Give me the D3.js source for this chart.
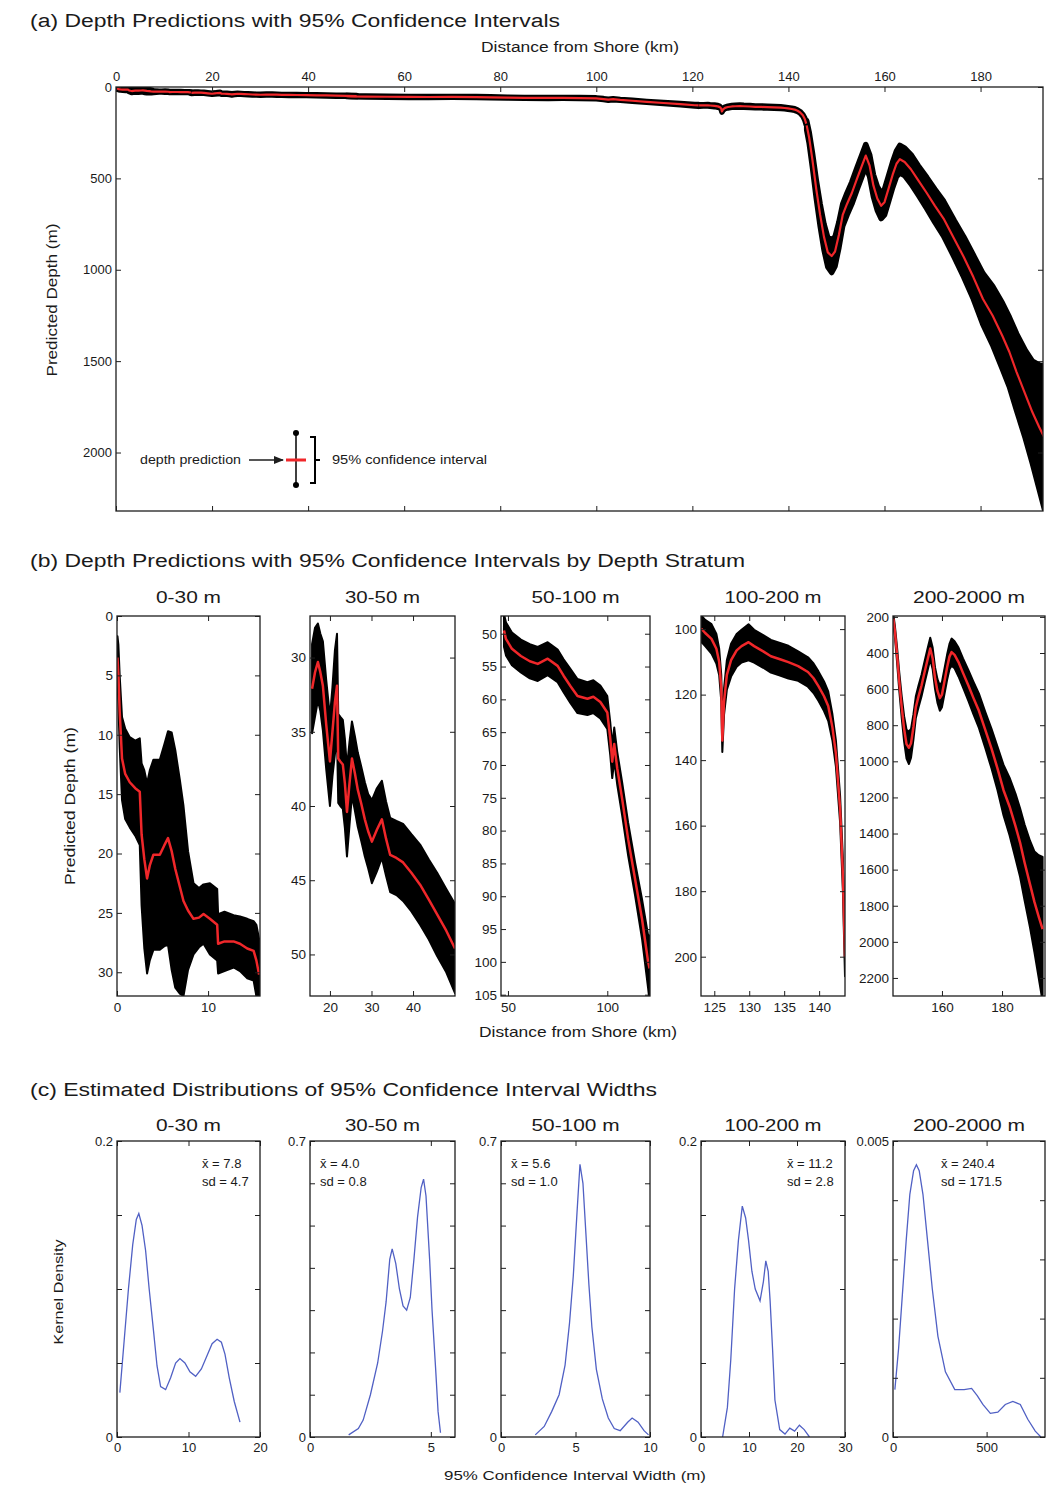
<!DOCTYPE html>
<html>
<head>
<meta charset="utf-8">
<script src="https://cdn.jsdelivr.net/npm/d3@7"></script>
<style>
  body { margin: 0; background: #fff; }
  text { font-family: "Liberation Sans", Arial, sans-serif; fill: #1a1a1a; }
</style>
</head>
<body>
<div id="vis"></div>
<script>
// ---------- data ----------
const strata = ['0-30 m', '30-50 m', '50-100 m', '100-200 m', '200-2000 m'];

// stratum profiles: distance (km), predicted depth (m), half width of 95% CI (m)
const dist1  = [0.05, 0.15, 0.3, 0.55, 0.9, 1.4, 2.0, 2.5, 2.7, 3.0, 3.3, 3.6, 4.0, 4.7, 5.2, 5.6, 6.0, 6.4, 6.9, 7.3, 7.8, 8.4, 9.0, 9.5, 10.2, 11.0, 11.1, 11.8, 12.8, 13.5, 14.3, 15.0, 15.3, 15.6];
const depth1 = [3.5, 4.9, 8.1, 12.0, 13.3, 14.0, 14.5, 14.8, 18.4, 20.5, 22.1, 21.0, 20.1, 20.1, 19.3, 18.7, 19.8, 21.3, 22.8, 24.0, 24.8, 25.5, 25.4, 25.1, 25.5, 26.0, 27.6, 27.4, 27.4, 27.6, 28.0, 28.2, 29.0, 30.2];
const ci1    = [1.8, 2.5, 3, 3.5, 3.8, 3.8, 4, 4.5, 6, 7.5, 8, 8, 8, 8, 8.5, 9, 10, 10, 9, 8, 5, 3, 2.5, 2.5, 3, 3, 2.5, 2.5, 2.2, 2.3, 2.5, 2.5, 3, 3];

const dist2  = [15.7, 16.4, 17.1, 17.7, 18.3, 19.1, 20.0, 20.6, 21.2, 21.7, 22.0, 22.5, 23.1, 23.6, 24.1, 24.7, 25.3, 26.0, 26.7, 27.5, 28.4, 29.2, 30.1, 31.3, 32.5, 33.5, 34.5, 36.0, 37.6, 39.6, 41.7, 43.8, 45.8, 48.0, 50.1];
const depth2 = [32.1, 31.0, 30.3, 31.0, 31.9, 34.5, 37.0, 35.0, 33.0, 31.9, 36.8, 37.0, 37.2, 38.5, 40.4, 38.5, 36.8, 37.8, 38.9, 39.8, 40.9, 41.7, 42.4, 41.6, 40.9, 42.2, 43.3, 43.5, 43.8, 44.5, 45.3, 46.3, 47.3, 48.4, 49.6];
const ci2    = [3, 3, 2.6, 2.6, 3, 3, 3, 3, 3.5, 3.5, 3, 3, 3, 3, 3, 2.8, 2.5, 2.5, 2.5, 2.5, 2.5, 2.5, 2.8, 2.8, 2.6, 2.5, 2.5, 2.5, 2.6, 2.6, 2.7, 2.7, 2.8, 2.8, 3];

const dist3  = [48.0, 49.0, 52.0, 56.5, 61.0, 65.0, 70.0, 75.0, 78.0, 81.5, 85.0, 90.0, 93.0, 96.5, 100.0, 101.5, 102.5, 103.5, 105.0, 107.5, 110.5, 114.0, 117.5, 120.5, 121.3];
const depth3 = [49.5, 50.8, 52.3, 53.4, 54.2, 54.6, 53.8, 54.9, 56.4, 58.0, 59.5, 59.9, 59.6, 60.4, 62.0, 66.0, 69.5, 66.8, 70.5, 75.2, 81.3, 87.4, 93.5, 99.9, 101.0];
const ci3    = [2.5, 2.5, 2.5, 2.5, 2.6, 2.6, 2.5, 2.5, 2.5, 2.6, 2.6, 2.5, 2.5, 2.5, 2.5, 2.5, 2.5, 2.5, 2.5, 2.5, 2.5, 2.5, 3, 4, 5];

const dist4  = [121.4, 122.3, 123.2, 123.7, 124.6, 125.3, 125.7, 126.0, 126.15, 126.4, 126.8, 127.4, 128.2, 128.9, 129.9, 130.7, 132.0, 133.1, 134.4, 135.6, 137.0, 138.4, 139.2, 139.9, 140.7, 141.3, 141.9, 142.4, 143.0, 143.4, 143.7];
const depth4 = [101, 100.5, 100, 101.2, 103, 106, 110, 118, 134, 122, 114, 109.5, 106.5, 105.2, 104, 105.2, 106.8, 108.3, 109.2, 110.1, 111.3, 113.1, 115.0, 117.4, 120.5, 123.5, 130, 138, 155, 175, 200];
const ci4    = [4, 4, 4, 4, 4.5, 4.5, 4, 4, 3.5, 4, 4.5, 5, 5, 5, 5.5, 5, 5, 5, 5, 5, 4.5, 4.5, 4.5, 4.5, 4.5, 4.5, 4, 4, 4, 5, 6];

const dist5  = [143.8, 144.3, 145.0, 145.8, 146.6, 147.4, 148.2, 149.0, 149.7, 150.5, 151.3, 152.2, 153.2, 154.3, 155.3, 156.1, 156.9, 157.7, 158.5, 159.3, 160.0, 160.8, 161.7, 162.5, 163.2, 164.2, 165.5, 167.0, 168.8, 170.5, 172.3, 174.5, 176.5, 178.5, 180.5, 182.5, 184.5, 186.0, 187.5, 189.3, 190.8, 192.2, 193.5];
const depth5 = [210, 275, 400, 560, 700, 820, 905, 925, 900, 810, 700, 640, 580, 500, 430, 375, 430, 540, 610, 650, 630, 560, 480, 420, 395, 410, 450, 510, 580, 650, 720, 830, 930, 1040, 1160, 1250, 1360, 1450, 1560, 1680, 1780, 1860, 1930];
const ci5    = [25, 30, 40, 50, 60, 70, 80, 90, 80, 70, 60, 60, 60, 60, 60, 60, 60, 60, 65, 70, 70, 70, 70, 70, 75, 75, 80, 80, 85, 90, 95, 100, 110, 120, 140, 160, 180, 190, 210, 240, 280, 340, 400];

const dists  = [dist1, dist2, dist3, dist4, dist5];
const depths = [depth1, depth2, depth3, depth4, depth5];
const cis    = [ci1, ci2, ci3, ci4, ci5];

// axes of panel (a)
const aXDomain = [0, 193];
const aYDomain = [0, 2320];
const aXTicks = [0, 20, 40, 60, 80, 100, 120, 140, 160, 180];
const aYTicks = [0, 500, 1000, 1500, 2000];

// axes of panel (b)
const bXDomains = [[0, 15.7], [15.2, 50.1], [46.5, 121.5], [123.1, 143.7], [143.7, 194.3]];
const bYDomains = [[0, 32], [27.2, 52.8], [47.3, 105.2], [96, 212], [195, 2300]];
const bXTicks = [[0, 10], [20, 30, 40], [50, 100], [125, 130, 135, 140], [160, 180]];
const bYTicks = [
  [0, 5, 10, 15, 20, 25, 30],
  [30, 35, 40, 45, 50],
  [50, 55, 60, 65, 70, 75, 80, 85, 90, 95, 100, 105],
  [100, 120, 140, 160, 180, 200],
  [200, 400, 600, 800, 1000, 1200, 1400, 1600, 1800, 2000, 2200]
];

// kernel densities of CI widths, panel (c)
const kdeX1 = [0.4, 1, 1.6, 2.2, 2.7, 3.05, 3.5, 4.0, 4.5, 5.1, 5.6, 6.1, 6.8, 7.5, 8.2, 8.8, 9.5, 10.2, 11, 11.8, 12.6, 13.3, 14, 14.6, 15.1, 15.7, 16.4, 17.2];
const kdeY1 = [0.03, 0.065, 0.1, 0.13, 0.147, 0.151, 0.143, 0.126, 0.1, 0.072, 0.048, 0.034, 0.032, 0.04, 0.05, 0.053, 0.05, 0.044, 0.041, 0.046, 0.055, 0.063, 0.066, 0.064, 0.056, 0.04, 0.024, 0.01];
const kdeX2 = [1.6, 2.0, 2.2, 2.5, 2.8, 3.0, 3.15, 3.3, 3.4, 3.55, 3.7, 3.85, 4.0, 4.15, 4.3, 4.45, 4.6, 4.7, 4.8, 4.95, 5.05, 5.2, 5.3, 5.4];
const kdeY2 = [0.005, 0.02, 0.04, 0.1, 0.175, 0.25, 0.32, 0.42, 0.445, 0.41, 0.35, 0.31, 0.3, 0.33, 0.42, 0.52, 0.59, 0.61, 0.57, 0.42, 0.3, 0.16, 0.06, 0.01];
const kdeX3 = [2.3, 2.9, 3.4, 3.9, 4.3, 4.6, 4.85, 5.1, 5.3, 5.5, 5.7, 5.9, 6.1, 6.4, 6.8, 7.2, 7.6, 8.0, 8.5, 8.8, 9.2, 9.6, 9.9];
const kdeY3 = [0.005, 0.025, 0.06, 0.1, 0.17, 0.27, 0.38, 0.53, 0.645, 0.6, 0.48, 0.36, 0.26, 0.16, 0.09, 0.045, 0.02, 0.015, 0.035, 0.045, 0.035, 0.015, 0.005];
const kdeX4 = [4.5, 5.5, 6.2, 7.0, 7.8, 8.6, 9.3, 9.9, 10.6, 11.3, 12.3, 13.0, 13.5, 14.0, 14.4, 14.9, 15.4, 16.4, 17.5, 18.5, 19.5, 20.5, 21.5, 22.6];
const kdeY4 = [0.0, 0.02, 0.052, 0.1, 0.133, 0.156, 0.148, 0.133, 0.112, 0.1, 0.092, 0.105, 0.119, 0.112, 0.092, 0.06, 0.025, 0.005, 0.002, 0.006, 0.004, 0.008, 0.005, 0.0];
const kdeX5 = [10, 30, 50, 70, 90, 110, 125, 140, 160, 185, 210, 240, 280, 330, 380, 420, 450, 480, 520, 560, 600, 640, 680, 720, 760, 790];
const kdeY5 = [0.0008, 0.0015, 0.0024, 0.0033, 0.0041, 0.0045, 0.0046, 0.0045, 0.0041, 0.0033, 0.0025, 0.0017, 0.0011, 0.0008, 0.0008, 0.00082, 0.0007, 0.00055, 0.0004, 0.00042, 0.00055, 0.0006, 0.00055, 0.0003, 0.0001, 0.0];
const kdeXs = [kdeX1, kdeX2, kdeX3, kdeX4, kdeX5];
const kdeYs = [kdeY1, kdeY2, kdeY3, kdeY4, kdeY5];

const cXDomains = [[0, 20], [0, 6], [0, 10], [0, 30], [0, 812]];
const cYMax = [0.2, 0.7, 0.7, 0.2, 0.005];
const cXTicks = [[0, 10, 20], [0, 5], [0, 5, 10], [0, 10, 20, 30], [0, 500]];
const cYTicks = [
  [0, 0.05, 0.1, 0.15, 0.2],
  [0, 0.1, 0.2, 0.3, 0.4, 0.5, 0.6, 0.7],
  [0, 0.1, 0.2, 0.3, 0.4, 0.5, 0.6, 0.7],
  [0, 0.05, 0.1, 0.15, 0.2],
  [0, 0.001, 0.002, 0.003, 0.004, 0.005]
];
const widthMeans = ['7.8', '4.0', '5.6', '11.2', '240.4'];
const widthSds = ['4.7', '0.8', '1.0', '2.8', '171.5'];

// ---------- layout ----------
const W = 1049, H = 1486;
const FONT = '"Liberation Sans", Arial, sans-serif';
const RED = '#f0272a', BLUE = '#5060c4', INK = '#1e1e1e';
const cols = [[117, 260], [310, 455], [501, 650], [701, 845], [893, 1045]];
const noteSide = ['right', 'left', 'left', 'right', 'right'];

const svg = d3.select('#vis').append('svg')
  .attr('width', W)
  .attr('height', H);
const defs = svg.append('defs');

defs.append('marker')
  .attr('id', 'arrow')
  .attr('viewBox', '0 0 10 10')
  .attr('refX', 9).attr('refY', 5)
  .attr('markerWidth', 7).attr('markerHeight', 7)
  .attr('orient', 'auto')
  .append('path').attr('d', 'M0,1 L10,5 L0,9 Z').attr('fill', INK);

function clipFor(id, x, y) {
  const [x0, x1] = x.range();
  const ys = y.range();
  defs.append('clipPath').attr('id', id).append('rect')
    .attr('x', x0).attr('y', Math.min(...ys))
    .attr('width', x1 - x0).attr('height', Math.abs(ys[1] - ys[0]));
  return `url(#${id})`;
}

// matlab-like box with inward ticks on all four sides
function box(g, x, y, xt, yt, o) {
  const [x0, x1] = x.range();
  const top = Math.min(...y.range()), bot = Math.max(...y.range());
  const fs = o.fs || 13;
  const none = () => '';
  const fmtX = o.xFmt || (d => String(d));
  const fmtY = o.yFmt || (d => String(d));
  const style = sel => {
    sel.select('.domain').remove();
    sel.selectAll('line').attr('stroke', INK).attr('stroke-width', 1);
    sel.selectAll('text').attr('font-size', fs).attr('font-family', FONT).attr('fill', INK);
  };
  g.append('g').attr('transform', `translate(0,${bot})`)
    .call(d3.axisBottom(x).tickValues(xt).tickSize(-5).tickPadding(6).tickFormat(o.xTop ? none : fmtX))
    .call(style);
  g.append('g').attr('transform', `translate(0,${top})`)
    .call(d3.axisTop(x).tickValues(xt).tickSize(-5).tickPadding(6).tickFormat(o.xTop ? fmtX : none))
    .call(style);
  g.append('g').attr('transform', `translate(${x0},0)`)
    .call(d3.axisLeft(y).tickValues(yt).tickSize(-5).tickPadding(4).tickFormat(fmtY))
    .call(style);
  g.append('g').attr('transform', `translate(${x1},0)`)
    .call(d3.axisRight(y).tickValues(yt).tickSize(-5).tickFormat(none))
    .call(style);
  g.append('rect')
    .attr('x', x0).attr('y', top)
    .attr('width', x1 - x0).attr('height', bot - top)
    .attr('fill', 'none').attr('stroke', INK).attr('stroke-width', 1.3);
}

function label(txt, x, y, size, len, opts) {
  const o = opts || {};
  const t = svg.append('text')
    .attr('x', o.rotate ? 0 : x).attr('y', o.rotate ? 0 : y)
    .attr('font-size', size)
    .attr('text-anchor', o.anchor || 'middle')
    .text(txt);
  if (len) t.attr('textLength', len).attr('lengthAdjust', 'spacingAndGlyphs');
  if (o.rotate) t.attr('transform', `translate(${x},${y}) rotate(-90)`);
  return t;
}

// draws CI band and prediction line of one or several strata
function profile(g, x, y, idx, bandStroke, lineW) {
  idx.forEach(k => {
    const D = dists[k], Z = depths[k], C = cis[k];
    const ii = d3.range(D.length);
    g.append('path')
      .attr('d', d3.area().x(i => x(D[i])).y0(i => y(Z[i] - C[i])).y1(i => y(Z[i] + C[i]))(ii))
      .attr('fill', '#000').attr('stroke', '#000')
      .attr('stroke-width', bandStroke).attr('stroke-linejoin', 'round');
  });
  idx.forEach(k => {
    const D = dists[k], Z = depths[k];
    const ii = d3.range(D.length);
    g.append('path')
      .attr('d', d3.line().x(i => x(D[i])).y(i => y(Z[i]))(ii))
      .attr('fill', 'none').attr('stroke', RED)
      .attr('stroke-width', lineW).attr('stroke-linejoin', 'round');
  });
}

// ---------- (a) ----------
label('(a) Depth Predictions with 95% Confidence Intervals', 30, 27, 18, 530, {anchor: 'start'});
label('Distance from Shore (km)', 580, 52, 14, 198);
label('Predicted Depth (m)', 57, 300, 14, 153, {rotate: true});

const ax = d3.scaleLinear().domain(aXDomain).range([116, 1043]);
const ay = d3.scaleLinear().domain(aYDomain).range([87, 511]);
const ga = svg.append('g');
profile(ga.append('g').attr('clip-path', clipFor('clip-a', ax, ay)), ax, ay, [0, 1, 2, 3, 4], 5.5, 2.2);
box(ga, ax, ay, aXTicks, aYTicks, {xTop: true, fs: 13});

// legend of panel (a)
const lg = ga.append('g');
lg.append('text').attr('x', 140).attr('y', 464).attr('font-size', 12)
  .attr('textLength', 101).attr('lengthAdjust', 'spacingAndGlyphs').text('depth prediction');
lg.append('line').attr('x1', 249).attr('x2', 283).attr('y1', 460).attr('y2', 460)
  .attr('stroke', INK).attr('stroke-width', 1.5).attr('marker-end', 'url(#arrow)');
lg.append('line').attr('x1', 296).attr('x2', 296).attr('y1', 433).attr('y2', 485)
  .attr('stroke', '#000').attr('stroke-width', 1.5);
lg.selectAll('circle.end').data([433, 485]).enter().append('circle')
  .attr('cx', 296).attr('cy', d => d).attr('r', 3).attr('fill', '#000');
lg.append('line').attr('x1', 286).attr('x2', 306).attr('y1', 460).attr('y2', 460)
  .attr('stroke', RED).attr('stroke-width', 3);
lg.append('path').attr('d', 'M310,437 H315 V483 H310 M315,460 H320')
  .attr('fill', 'none').attr('stroke', '#000').attr('stroke-width', 2);
lg.append('text').attr('x', 332).attr('y', 464).attr('font-size', 12)
  .attr('textLength', 155).attr('lengthAdjust', 'spacingAndGlyphs').text('95% confidence interval');

// ---------- (b) ----------
label('(b) Depth Predictions with 95% Confidence Intervals by Depth Stratum', 30, 567, 18, 715, {anchor: 'start'});
label('Distance from Shore (km)', 578, 1037, 15, 198);
label('Predicted Depth (m)', 75, 806, 14, 158, {rotate: true});

const subLen = [65, 75, 88, 97, 112];
strata.forEach((s, k) => {
  const [l, r] = cols[k];
  const x = d3.scaleLinear().domain(bXDomains[k]).range([l, r]);
  const y = d3.scaleLinear().domain(bYDomains[k]).range([616, 996]);
  label(s, (l + r) / 2, 603, 17, subLen[k]);
  const g = svg.append('g');
  profile(g.append('g').attr('clip-path', clipFor('clip-b' + k, x, y)), x, y, [k], 2, 2.5);
  box(g, x, y, bXTicks[k], bYTicks[k], {fs: 13.5});
});

// ---------- (c) ----------
label('(c) Estimated Distributions of 95% Confidence Interval Widths', 30, 1096, 18, 627, {anchor: 'start'});
label('95% Confidence Interval Width (m)', 575, 1480, 13, 262);
label('Kernel Density', 63, 1292, 13, 105, {rotate: true});

strata.forEach((s, k) => {
  const [l, r] = cols[k];
  const x = d3.scaleLinear().domain(cXDomains[k]).range([l, r]);
  const y = d3.scaleLinear().domain([0, cYMax[k]]).range([1437, 1141]);
  label(s, (l + r) / 2, 1131, 17, subLen[k]);
  const g = svg.append('g');
  const X = kdeXs[k], Y = kdeYs[k];
  g.append('path')
    .attr('clip-path', clipFor('clip-c' + k, x, y))
    .attr('d', d3.line().x(i => x(X[i])).y(i => y(Y[i]))(d3.range(X.length)))
    .attr('fill', 'none').attr('stroke', BLUE).attr('stroke-width', 1.3);
  const ymax = cYMax[k];
  box(g, x, y, cXTicks[k], cYTicks[k], {
    fs: 13,
    yFmt: d => (d === 0 || d === ymax) ? String(d) : ''
  });
  const tx = noteSide[k] === 'right' ? r - (k === 4 ? 104 : 58) : l + 10;
  const note = g.append('text').attr('font-size', 13);
  note.append('tspan').attr('x', tx).attr('y', 1168).text('x\u0304 = ' + widthMeans[k]);
  note.append('tspan').attr('x', tx).attr('y', 1186).text('sd = ' + widthSds[k]);
});
</script>
</body>
</html>
